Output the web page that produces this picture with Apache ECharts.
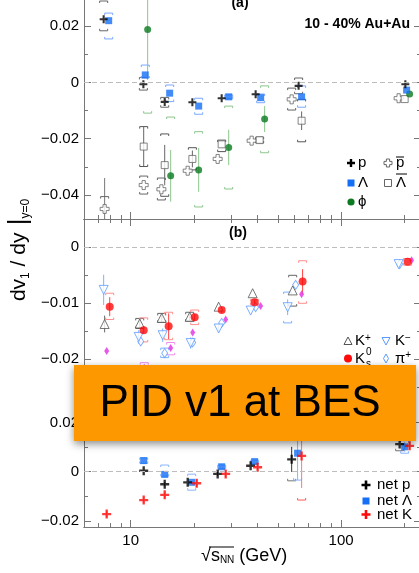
<!DOCTYPE html>
<html><head><meta charset="utf-8">
<script src="https://cdn.jsdelivr.net/npm/echarts@6/dist/echarts.min.js"></script>
<style>html,body{margin:0;padding:0;background:#fff}#c{width:419px;height:573px}</style>
</head><body><div id="c"></div><script>
// ---------- axes ----------
const xRange = [6, 237];
const xMajorTicks = [10, 100];
const xMinorTicks = [7, 8, 9, 20, 30, 40, 50, 60, 70, 80, 90, 200];
const aRange = [-0.048577, 0.032918];
const aMajorTicks = [-0.04, -0.02, 0, 0.02];
const aMinorTicks = [-0.03, -0.01, 0.01];
const bRange = [-0.027268, 0.005054];
const bMajorTicks = [-0.02, -0.01, 0];
const bMinorTicks = [-0.025, -0.015, -0.005];
const cRange = [-0.022434, 0.029087];
const cMajorTicks = [-0.02, 0, 0.02];
const cMinorTicks = [-0.01, 0.01];

// ---------- panel (a) ----------
const pX = [7.44, 11.49, 14.51, 19.64, 27.06, 39.24, 62.8, 201.9];
const pY = [0.0225, -0.0006, -0.0069, -0.0070, -0.0056, -0.0042, -0.0012, -0.0006];
const pSys = [[0.0184, 0.0290], [-0.0027, 0.0018], [-0.0088, -0.0053], null, null, null, [-0.0040, 0.0016], null];

const lamX = [7.86, 11.73, 15.32, 21.04, 29.22, 41.45, 64.9, 204.7];
const lamY = [0.0220, 0.0027, -0.0038, -0.0084, -0.0051, -0.0054, -0.0051, -0.0027];
const lamSys = [[0.0155, 0.0247], [0.0016, 0.0062], [-0.0068, -0.0009], [-0.0113, -0.0056], [-0.0058, -0.0044], [-0.0072, -0.0041], [-0.0088, -0.0012], null];

const phiX = [12.04, 15.49, 21.04, 29.22, 43.3, 211.5];
const phiY = [0.0189, -0.0332, -0.0311, -0.0231, -0.0130, -0.0041];
const phiStat = [0.017, 0.0092, 0.0078, 0.0063, 0.0046, null];
const phiSys = [[-0.0109, 0.049], [-0.054, -0.0123], [-0.0443, -0.0175], [-0.0379, -0.0084], [-0.0250, -0.0012], null];

const pbarX = [7.52, 11.53, 13.99, 18.66, 25.9, 37.56, 58.2, 187.6];
const pbarY = [-0.0450, -0.0365, -0.0380, -0.0314, -0.0272, -0.0207, -0.0060, -0.0056];
const pbarStat = [0.011, null, null, null, null, null, null, null];
const pbarSys = [[-0.0494, -0.0406], [-0.0397, -0.0333], [-0.0418, -0.0340], null, null, null, [-0.0098, -0.0020], null];

const lbarX = [11.53, 14.51, 19.64, 27.06, 41.0, 64.9, 200.4];
const lbarY = [-0.0228, -0.0294, -0.0272, -0.0220, -0.0205, -0.0136, -0.0059];
const lbarStat = [0.0071, 0.0072, 0.003, null, null, 0.0033, null];
const lbarSys = [[-0.0299, -0.0157], [-0.0405, -0.0183], [-0.0311, -0.0232], [-0.0246, -0.0205], [-0.0215, -0.0195], [-0.0211, -0.0060], null];

// ---------- panel (b) ----------
const kpX = [7.52, 11.04, 14.04, 19.07, 26.18, 37.98, 58.85];
const kpY = [-0.0137, -0.0136, -0.0126, -0.0124, -0.0106, -0.0082, -0.0077];
const kpStat = [0.0015, 0.0008, 0.0008, 0.0006, null, null, null];
const kpSys = [null, [-0.0145, -0.0127], [-0.0134, -0.0118], [-0.0132, -0.0116], null, null, [-0.0105, -0.0050]];

const k0X = [7.95, 11.53, 15.15, 20.14, 27.06, 38.81, 65.6, 207];
const k0Y = [-0.0106, -0.0148, -0.0141, -0.0125, -0.0112, -0.0098, -0.0061, -0.0026];
const k0Stat = [0.0017, 0.0006, 0.0023, 0.0006, 0.0005, 0.0005, 0.0022, null];
const k0Sys = [[-0.0129, -0.0082], [-0.0169, -0.0126], [-0.0165, -0.0116], [-0.0138, -0.0112], null, [-0.0103, -0.0093], [-0.0100, -0.0024], [-0.0032, -0.0020]];

const kmX = [7.44, 10.92, 14.19, 19.28, 26.18, 37.15, 55.7, 187.6];
const kmY = [-0.0076, -0.0160, -0.0157, -0.0171, -0.0145, -0.0113, -0.0107, -0.0030];
const kmStat = [0.0027, 0.0012, 0.0012, 0.0010, 0.0006, null, 0.0014, null];
const kmSys = [null, null, null, null, null, null, [-0.0135, -0.0080], null];

const pipX = [11.16, 14.51, 19.71, 27.06, 39.24, 60.8, 189.7];
const pipY = [-0.0168, -0.0189, -0.0170, -0.0135, -0.0107, -0.0067, -0.0030];
const pipSys = [null, [-0.0197, -0.0180], null, null, null, null, null];

const pimX = [7.69, 11.6, 15.49, 19.71, 28.27, 41.45, 64.9, 216.2];
const pimY = [-0.0185, -0.0215, -0.0180, -0.0152, -0.0129, -0.0105, -0.0084, -0.0023];
const pimSys = [null, [-0.0225, -0.0206], [-0.0192, -0.0170], null, null, null, null, null];

// ---------- panel (c) ----------
const npX = [11.53, 14.51, 18.66, 25.9, 37.15, 58.2, 189.7];
const npY = [0.0004, -0.0051, -0.0043, -0.0009, 0.0024, 0.0050, 0.0112];
const npStat = [null, 0.0008, null, 0.0008, null, 0.0051, null];
const npSys = [null, null, null, null, null, [-0.0037, 0.0137], [0.0085, 0.0139]];

const nlX = [11.53, 14.51, 19.49, 27.06, 38.81, 62.1, 200.4];
const nlY = [0.0045, -0.0011, -0.0043, 0.0020, 0.0041, 0.0075, 0.0101];
const nlStat = [null, null, null, null, null, 0.0109, 0.002];
const nlSys = [[0.0034, 0.0056], [-0.0018, 0.0027], [-0.0075, -0.0010], [0.0013, 0.0027], [0.0033, 0.0047], [-0.0034, 0.0184], [0.0075, 0.0127]];

const nkX = [7.69, 11.53, 14.51, 20.59, 28.27, 40.11, 64.9, 211.5];
const nkY = [-0.0172, -0.0115, -0.0094, -0.0047, -0.0009, 0.0018, 0.0064, 0.0105];
const nkStat = [0.0012, 0.0010, 0.0012, 0.0015, 0.0014, 0.0012, 0.013, 0.0015];
const nkSys = [null, null, null, null, null, null, [-0.0115, 0.024], null];

// ---------- styling ----------
const FONT = '"Liberation Sans", Arial, Helvetica, sans-serif';
const AXC = '#777';
const BLUE = '#146ff6', LBLUE = '#5b9bff', GREEN = '#0b7a21', RED = '#ff0a0a', MAG = '#e22ee2';
const PLUS = 'path://M-1.3,-5H1.3V-1.3H5V1.3H1.3V5H-1.3V1.3H-5V-1.3H-1.3Z';
const PLUS_H = 'path://M-1.8,-5H1.8V-1.8H5V1.8H1.8V5H-1.8V1.8H-5V-1.8H-1.8Z';

function fmtY(v) {
  if (Math.abs(v) < 1e-9) return '0';
  return (v < 0 ? '\u2212' : '') + String(+Math.abs(v).toFixed(4));
}
function xAx(grid, pos, ticks, len, labels) {
  return {
    type: 'log', logBase: 10, gridIndex: grid, position: pos, min: xRange[0], max: xRange[1],
    axisLine: { show: true, onZero: false, lineStyle: { color: AXC, width: 1 } },
    axisTick: { show: true, inside: true, length: len, customValues: ticks, lineStyle: { color: AXC } },
    axisLabel: labels ? { show: true, customValues: ticks, formatter: v => String(Math.round(v)),
      fontFamily: FONT, fontSize: 15, color: '#000', margin: 6 } : { show: false },
    splitLine: { show: false }, minorTick: { show: false }, minorSplitLine: { show: false }
  };
}
function yAxes(grid, range, major, minor) {
  const base = (pos) => ({ type: 'value', gridIndex: grid, position: pos, min: range[0], max: range[1],
    splitLine: { show: false }, minorTick: { show: false } });
  return [
    Object.assign(base('left'), {
      axisLine: { show: true, onZero: false, lineStyle: { color: AXC, width: 1 } },
      axisTick: { show: true, inside: true, length: 7, customValues: major, lineStyle: { color: AXC } },
      axisLabel: { show: true, customValues: major, formatter: fmtY, fontFamily: FONT, fontSize: 15, color: '#000', margin: 5 }
    }),
    Object.assign(base('left'), {
      axisLine: { show: false, onZero: false },
      axisTick: { show: true, inside: true, length: 4, customValues: minor, lineStyle: { color: AXC } },
      axisLabel: { show: false }
    }),
    Object.assign(base('right'), {
      axisLine: { show: false, onZero: false },
      axisTick: { show: true, inside: true, length: 6, customValues: major, lineStyle: { color: AXC } },
      axisLabel: { show: false }
    }),
    Object.assign(base('right'), {
      axisLine: { show: false, onZero: false },
      axisTick: { show: true, inside: true, length: 3, customValues: minor, lineStyle: { color: AXC } },
      axisLabel: { show: false }
    })
  ];
}
function er(xi, yi, xs, ys, stat, sys, statColor, sysColor) {
  return {
    type: 'custom', xAxisIndex: xi, yAxisIndex: yi, clip: true, z: 2, silent: true,
    data: xs.map((x, i) => [x, ys[i]]),
    renderItem(params, api) {
      const i = params.dataIndex, x = xs[i], y = ys[i], ch = [];
      const st = stat ? stat[i] : null;
      if (st) {
        const a = api.coord([x, y + st]), b = api.coord([x, y - st]);
        ch.push({ type: 'line', shape: { x1: a[0], y1: a[1], x2: b[0], y2: b[1] }, style: { stroke: statColor, lineWidth: 1 } });
      }
      const sy = sys ? sys[i] : null;
      if (sy) {
        const t = api.coord([x, sy[1]]), b = api.coord([x, sy[0]]), w = 4, h = 2;
        ch.push({ type: 'polyline', shape: { points: [[t[0] - w, t[1] + h], [t[0] - w, t[1]], [t[0] + w, t[1]], [t[0] + w, t[1] + h]] }, style: { stroke: sysColor, fill: null, lineWidth: 1 } });
        ch.push({ type: 'polyline', shape: { points: [[b[0] - w, b[1] - h], [b[0] - w, b[1]], [b[0] + w, b[1]], [b[0] + w, b[1] - h]] }, style: { stroke: sysColor, fill: null, lineWidth: 1 } });
      }
      return { type: 'group', children: ch };
    }
  };
}
function sc(xi, yi, xs, ys, symbol, size, itemStyle, extra) {
  return Object.assign({
    type: 'scatter', xAxisIndex: xi, yAxisIndex: yi, data: xs.map((x, i) => [x, ys[i]]),
    symbol, symbolSize: size, itemStyle, z: 3, silent: true
  }, extra || {});
}
const zeroLine = { markLine: { silent: true, symbol: ['none', 'none'], label: { show: false },
  lineStyle: { color: '#bdbdbd', type: [5, 3], width: 1 }, data: [{ yAxis: 0 }] } };

// ---------- graphic helpers ----------
function plusPts(cx, cy, r, t) {
  return [[cx - t, cy - r], [cx + t, cy - r], [cx + t, cy - t], [cx + r, cy - t], [cx + r, cy + t], [cx + t, cy + t],
    [cx + t, cy + r], [cx - t, cy + r], [cx - t, cy + t], [cx - r, cy + t], [cx - r, cy - t], [cx - t, cy - t]];
}
function txt(x, y, text, size, extra) {
  return { type: 'text', x, y, z: 50, style: Object.assign({ text, fill: '#000', font: size + 'px ' + FONT,
    textAlign: 'left', textVerticalAlign: 'middle', align: 'left', verticalAlign: 'middle' }, extra || {}) };
}
function hline(x1, x2, y, color) {
  return { type: 'line', z: 50, shape: { x1, y1: y, x2, y2: y }, style: { stroke: color || '#000', lineWidth: 1 } };
}
const supRich = {
  m: { fontSize: 15, fontFamily: FONT, fill: '#000' },
  sup: { fontSize: 10, fontFamily: FONT, fill: '#000', verticalAlign: 'top', padding: [0, 0, 6, 0] }
};

const graphics = [
  txt(240, 3, '(a)', 14, { font: 'bold 14px ' + FONT, textAlign: 'center', align: 'center' }),
  txt(238, 233, '(b)', 14, { font: 'bold 14px ' + FONT, textAlign: 'center', align: 'center' }),
  txt(410, 24, '10 - 40% Au+Au', 14, { font: 'bold 14px ' + FONT, textAlign: 'right', align: 'right' }),
  // legend a
  { type: 'polygon', z: 50, shape: { points: plusPts(351, 163, 4, 1.2) }, style: { fill: '#000' } },
  txt(358, 163, 'p', 15),
  { type: 'polygon', z: 50, shape: { points: plusPts(388, 163, 4, 1.6) }, style: { fill: '#fff', stroke: '#666', lineWidth: 1 } },
  txt(396, 163, 'p', 15), hline(396, 404, 157),
  { type: 'rect', z: 50, shape: { x: 347.5, y: 179.5, width: 7, height: 7 }, style: { fill: BLUE } },
  txt(358, 183, '\u039b', 15),
  { type: 'rect', z: 50, shape: { x: 384.5, y: 179.5, width: 7, height: 7 }, style: { fill: '#fff', stroke: '#666', lineWidth: 1 } },
  txt(396, 183, '\u039b', 15), hline(396, 407, 174),
  { type: 'circle', z: 50, shape: { cx: 351, cy: 202, r: 3.6 }, style: { fill: GREEN } },
  txt(358, 202, '\u03d5', 15),
  // legend b
  { type: 'polygon', z: 50, shape: { points: [[348, 337], [352, 344.5], [344, 344.5]] }, style: { fill: '#fff', stroke: '#555', lineWidth: 1 } },
  txt(355, 341, '{m|K}{sup|+}', 15, { rich: supRich }),
  { type: 'polygon', z: 50, shape: { points: [[382, 337.5], [390, 337.5], [386, 345]] }, style: { fill: '#fff', stroke: LBLUE, lineWidth: 1 } },
  txt(395, 341, '{m|K}{sup|\u2212}', 15, { rich: supRich }),
  { type: 'circle', z: 50, shape: { cx: 348, cy: 358.5, r: 4 }, style: { fill: RED } },
  txt(355, 358.5, 'K', 15), txt(366, 352, '0', 10), txt(366, 364, 's', 10),
  { type: 'polygon', z: 50, shape: { points: [[386, 354], [388.5, 358.5], [386, 363], [383.5, 358.5]] }, style: { fill: '#fff', stroke: LBLUE, lineWidth: 1 } },
  txt(395, 358.5, '{m|\u03c0}{sup|+}', 15, { rich: supRich }),
  // legend c
  { type: 'polygon', z: 50, shape: { points: plusPts(366, 485, 4.5, 1.3) }, style: { fill: '#000' } },
  txt(377, 485, 'net p', 15),
  { type: 'rect', z: 50, shape: { x: 362.5, y: 497.5, width: 7, height: 7 }, style: { fill: BLUE } },
  txt(377, 501, 'net \u039b', 15),
  { type: 'polygon', z: 50, shape: { points: plusPts(366, 514.5, 4.5, 1.3) }, style: { fill: RED } },
  txt(377, 514.5, 'net K', 15),
  // axis titles
  { type: 'text', x: 19, y: 250, rotation: Math.PI / 2, z: 50, style: {
      text: '{n|dv}{s|1}{n| / d}{n|y}{bar| |}{s|y=0}', textAlign: 'center', align: 'center',
      textVerticalAlign: 'middle', verticalAlign: 'middle',
      rich: {
        n: { fontSize: 21, fontFamily: FONT, fill: '#000' },
        s: { fontSize: 12, fontFamily: FONT, fill: '#000', verticalAlign: 'bottom' },
        bar: { fontSize: 26, fontFamily: FONT, fill: '#000' }
      } } },
  { type: 'text', x: 201, y: 556, z: 50, style: {
      text: '{n|\u221a}{n|s}{sub|NN}{n| (GeV)}', textAlign: 'left', align: 'left',
      textVerticalAlign: 'middle', verticalAlign: 'middle',
      rich: {
        n: { fontSize: 18, fontFamily: FONT, fill: '#000' },
        sub: { fontSize: 10, fontFamily: FONT, fill: '#000', verticalAlign: 'bottom' }
      } } },
  hline(209, 234, 547),
  // banner
  { type: 'rect', z: 100, shape: { x: 74, y: 365, width: 342, height: 76 },
    style: { fill: '#fe9800', shadowBlur: 8, shadowOffsetY: 3, shadowColor: 'rgba(0,0,0,0.45)' } },
  { type: 'text', x: 240, y: 404, z: 101, style: { text: 'PID v1 at BES', font: '44px ' + FONT, fill: '#000',
      textAlign: 'center', align: 'center', textVerticalAlign: 'middle', verticalAlign: 'middle' } }
];

const option = {
  animation: false,
  backgroundColor: '#fff',
  grid: [
    { left: 84, top: -10, width: 336, height: 229, outerBoundsMode: 'none' },
    { left: 84, top: 219, width: 336, height: 181, outerBoundsMode: 'none' },
    { left: 84, top: 400, width: 336, height: 127, outerBoundsMode: 'none' }
  ],
  xAxis: [
    xAx(0, 'bottom', xMajorTicks, 7, false), xAx(0, 'bottom', xMinorTicks, 4, false),
    xAx(1, 'top', xMajorTicks, 7, false), xAx(1, 'top', xMinorTicks, 4, false),
    xAx(2, 'bottom', xMajorTicks, 7, true), xAx(2, 'bottom', xMinorTicks, 4, false)
  ],
  yAxis: [].concat(
    yAxes(0, aRange, aMajorTicks, aMinorTicks),
    yAxes(1, bRange, bMajorTicks, bMinorTicks),
    yAxes(2, cRange, cMajorTicks, cMinorTicks)
  ),
  series: [
    // panel a
    er(0, 0, pX, pY, null, pSys, '#000', '#666'),
    er(0, 0, lamX, lamY, null, lamSys, '#7aa8ff', '#7aa8ff'),
    er(0, 0, phiX, phiY, phiStat, phiSys, '#8cc68c', '#8cc68c'),
    er(0, 0, pbarX, pbarY, pbarStat, pbarSys, '#777', '#666'),
    er(0, 0, lbarX, lbarY, lbarStat, lbarSys, '#666', '#555'),
    sc(0, 0, pbarX, pbarY, PLUS_H, 9, { color: '#fff', borderColor: '#666', borderWidth: 1 }, zeroLine),
    sc(0, 0, lbarX, lbarY, 'rect', 7, { color: '#fff', borderColor: '#666', borderWidth: 1 }),
    sc(0, 0, phiX, phiY, 'circle', 7, { color: GREEN }),
    sc(0, 0, lamX, lamY, 'rect', 7, { color: BLUE }),
    sc(0, 0, pX, pY, PLUS, 8, { color: '#000' }),
    // panel b
    er(2, 4, kpX, kpY, kpStat, kpSys, '#666', '#666'),
    er(2, 4, k0X, k0Y, k0Stat, k0Sys, '#ff4040', '#ff8c8c'),
    er(2, 4, kmX, kmY, kmStat, kmSys, '#7fb0ff', '#7fb0ff'),
    er(2, 4, pipX, pipY, null, pipSys, '#7fb0ff', '#7fb0ff'),
    er(2, 4, pimX, pimY, null, pimSys, '#f08cf0', '#f08cf0'),
    sc(2, 4, pimX, pimY, 'diamond', [5, 8], { color: MAG }, zeroLine),
    sc(2, 4, pipX, pipY, 'diamond', [6, 9], { color: '#fff', borderColor: LBLUE, borderWidth: 1 }),
    sc(2, 4, kmX, kmY, 'triangle', 9, { color: '#fff', borderColor: LBLUE, borderWidth: 1 }, { symbolRotate: 180 }),
    sc(2, 4, kpX, kpY, 'triangle', 9, { color: '#fff', borderColor: '#555', borderWidth: 1 }),
    sc(2, 4, k0X, k0Y, 'circle', 8, { color: RED }),
    // panel c
    er(4, 8, npX, npY, npStat, npSys, '#333', '#777'),
    er(4, 8, nlX, nlY, nlStat, nlSys, '#8ab4ff', '#8ab4ff'),
    er(4, 8, nkX, nkY, nkStat, nkSys, '#ff7a7a', '#ff5a5a'),
    sc(4, 8, nlX, nlY, 'rect', 7, { color: BLUE }, zeroLine),
    sc(4, 8, npX, npY, PLUS, 9, { color: '#000' }),
    sc(4, 8, nkX, nkY, PLUS, 9, { color: RED })
  ],
  graphic: { elements: graphics }
};
const chart = echarts.init(document.getElementById('c'), null, { renderer: 'canvas' });
chart.setOption(option);
</script></body></html>
